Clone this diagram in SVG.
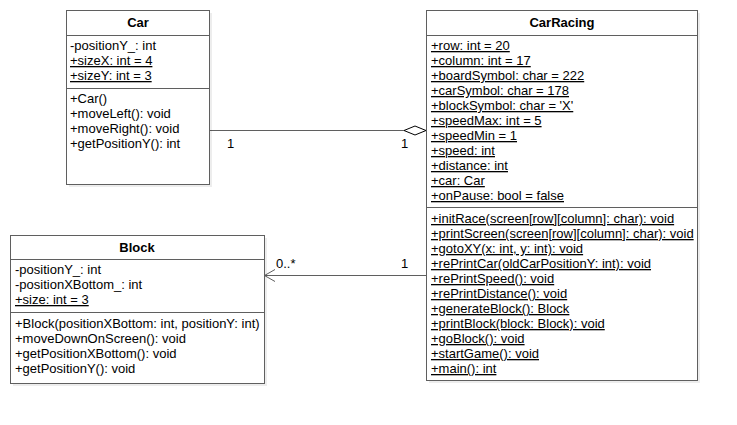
<svg xmlns="http://www.w3.org/2000/svg" width="737" height="425" viewBox="0 0 737 425">
<style>
.shadow{fill:#000;opacity:0.07}
.box{fill:#fff;stroke:#5f5f5f;stroke-width:1}
.sep{stroke:#5f5f5f;stroke-width:1}
text{font-family:"Liberation Sans",Arial,sans-serif;font-size:13px;fill:#000}
.title{font-weight:bold;text-anchor:middle}
.st{text-decoration:underline}
.conn{stroke:#5f5f5f;stroke-width:1;fill:none}
</style>
<rect width="737" height="425" fill="#fff"/>
<g id="connectors">
<line class="conn" x1="209.5" y1="130.5" x2="404" y2="130.5"/>
<polygon points="404,130.5 415,126 426,130.5 415,135" fill="#fff" stroke="#000" stroke-width="1"/>
<text x="227" y="148">1</text>
<text x="401" y="148">1</text>
<line class="conn" x1="426" y1="275.5" x2="265" y2="275.5"/>
<polyline class="conn" points="275,269.5 264.5,275.5 275,281.5"/>
<text x="276" y="268">0..*</text>
<text x="401" y="268">1</text>
</g>
<g id="car">
<rect class="shadow" x="69" y="13" width="143" height="174"/>
<rect class="box" x="66.5" y="10.5" width="143" height="174"/>
<line class="sep" x1="66.5" y1="35.5" x2="209.5" y2="35.5"/>
<line class="sep" x1="66.5" y1="88.5" x2="209.5" y2="88.5"/>
<text class="title" x="138" y="27">Car</text>
<text x="70" y="50">-positionY_: int</text>
<text x="70" y="65" class="st">+sizeX: int = 4</text>
<text x="70" y="80" class="st">+sizeY: int = 3</text>
<text x="70" y="103">+Car()</text>
<text x="70" y="118">+moveLeft(): void</text>
<text x="70" y="133">+moveRight(): void</text>
<text x="70" y="148">+getPositionY(): int</text>
</g>
<g id="carracing">
<rect class="shadow" x="429" y="13" width="271" height="370"/>
<rect class="box" x="426.5" y="10.5" width="271" height="370"/>
<line class="sep" x1="426.5" y1="35.5" x2="697.5" y2="35.5"/>
<line class="sep" x1="426.5" y1="207.5" x2="697.5" y2="207.5"/>
<text class="title" x="562" y="27">CarRacing</text>
<text x="431" y="50" class="st">+row: int = 20</text>
<text x="431" y="65" class="st">+column: int = 17</text>
<text x="431" y="80" class="st">+boardSymbol: char = 222</text>
<text x="431" y="95" class="st">+carSymbol: char = 178</text>
<text x="431" y="110" class="st">+blockSymbol: char = 'X'</text>
<text x="431" y="125" class="st">+speedMax: int = 5</text>
<text x="431" y="140" class="st">+speedMin = 1</text>
<text x="431" y="155" class="st">+speed: int</text>
<text x="431" y="170" class="st">+distance: int</text>
<text x="431" y="185" class="st">+car: Car</text>
<text x="431" y="200" class="st">+onPause: bool = false</text>
<text x="431" y="223" class="st">+initRace(screen[row][column]: char): void</text>
<text x="431" y="238" class="st">+printScreen(screen[row][column]: char): void</text>
<text x="431" y="253" class="st">+gotoXY(x: int, y: int): void</text>
<text x="431" y="268" class="st">+rePrintCar(oldCarPositionY: int): void</text>
<text x="431" y="283" class="st">+rePrintSpeed(): void</text>
<text x="431" y="298" class="st">+rePrintDistance(): void</text>
<text x="431" y="313" class="st">+generateBlock(): Block</text>
<text x="431" y="328" class="st">+printBlock(block: Block): void</text>
<text x="431" y="343" class="st">+goBlock(): void</text>
<text x="431" y="358" class="st">+startGame(): void</text>
<text x="431" y="373" class="st">+main(): int</text>
</g>
<g id="block">
<rect class="shadow" x="13" y="238" width="254" height="148"/>
<rect class="box" x="10.5" y="235.5" width="254" height="148"/>
<line class="sep" x1="10.5" y1="259.5" x2="264.5" y2="259.5"/>
<line class="sep" x1="10.5" y1="312.5" x2="264.5" y2="312.5"/>
<text class="title" x="137" y="252">Block</text>
<text x="15" y="274">-positionY_: int</text>
<text x="15" y="289">-positionXBottom_: int</text>
<text x="15" y="304" class="st">+size: int = 3</text>
<text x="15" y="328">+Block(positionXBottom: int, positionY: int)</text>
<text x="15" y="343">+moveDownOnScreen(): void</text>
<text x="15" y="358">+getPositionXBottom(): void</text>
<text x="15" y="373">+getPositionY(): void</text>
</g>
</svg>
